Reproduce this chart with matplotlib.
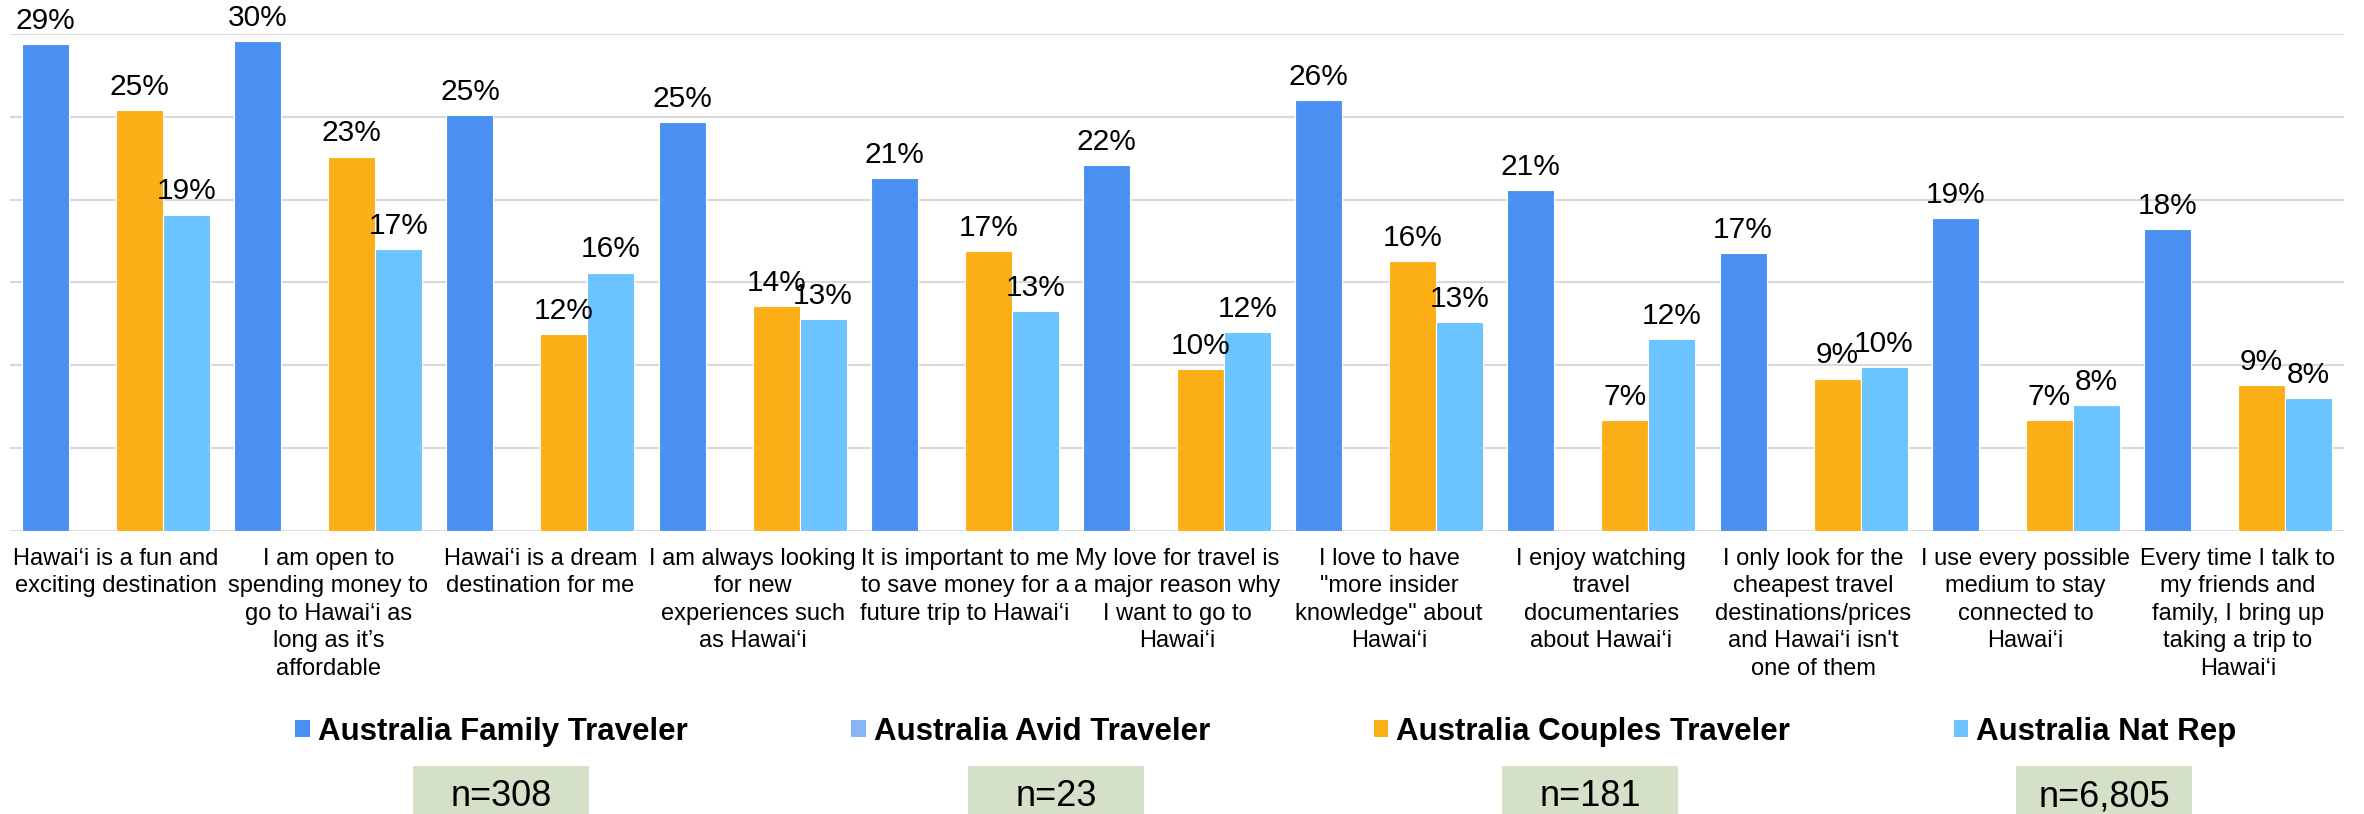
import numpy as np
import matplotlib
matplotlib.use("Agg")
import matplotlib.pyplot as plt
from matplotlib.patches import Patch, Rectangle

plt.rcParams['font.family'] = ['Liberation Sans', 'DejaVu Sans']

categories = [
    "Hawai\u2018i is a fun and\nexciting destination",
    "I am open to\nspending money to\ngo to Hawai\u2018i as\nlong as it\u2019s\naffordable",
    "Hawai\u2018i is a dream\ndestination for me",
    "I am always looking\nfor new\nexperiences such\nas Hawai\u2018i",
    "It is important to me\nto save money for a\nfuture trip to Hawai\u2018i",
    "My love for travel is\na major reason why\nI want to go to\nHawai\u2018i",
    "I love to have\n\"more insider\nknowledge\" about\nHawai\u2018i",
    "I enjoy watching\ntravel\ndocumentaries\nabout Hawai\u2018i",
    "I only look for the\ncheapest travel\ndestinations/prices\nand Hawai\u2018i isn't\none of them",
    "I use every possible\nmedium to stay\nconnected to\nHawai\u2018i",
    "Every time I talk to\nmy friends and\nfamily, I bring up\ntaking a trip to\nHawai\u2018i",
]

series_names = ["Australia Family Traveler", "Australia Avid Traveler",
                "Australia Couples Traveler", "Australia Nat Rep"]
family = [29.4, 29.6, 25.1, 24.7, 21.3, 22.1, 26.0, 20.6, 16.8, 18.9, 18.2]
avid = [np.nan] * 11
couples = [25.4, 22.6, 11.9, 13.6, 16.9, 9.8, 16.3, 6.7, 9.2, 6.7, 8.8]
natrep = [19.1, 17.0, 15.6, 12.8, 13.3, 12.0, 12.6, 11.6, 9.9, 7.6, 8.0]
sample_sizes = ["n=308", "n=23", "n=181", "n=6,805"]

colors = ["#4A90F2", "#8AB4F8", "#FCAE16", "#6BC3FF"]

W, H = 2364, 814
fig = plt.figure(figsize=(W / 100, H / 100), dpi=100)
ax = fig.add_axes([10 / W, 1 - 531 / H, 2334 / W, (531 - 34) / H])

x = np.arange(len(categories))
w = 0.2215
all_series = [family, avid, couples, natrep]
for i, (vals, c) in enumerate(zip(all_series, colors)):
    vals = np.array(vals, dtype=float)
    xs = x + (i - 1.5) * w
    ax.bar(xs, np.nan_to_num(vals), w, color=c, edgecolor="white",
           linewidth=0.8, zorder=3)
    for xi, v in zip(xs, vals):
        if np.isnan(v):
            continue
        ax.text(xi, v + 0.55, f"{round(v)}%", ha="center", va="bottom",
                fontsize=21.5, color="black", zorder=4)

ax.set_xlim(-0.5, len(categories) - 0.5)
ax.set_ylim(0, 30)
ax.set_yticks(np.arange(0, 31, 5))
ax.yaxis.grid(True, color="#D9D9D9", linewidth=1.5, zorder=0)
ax.set_axisbelow(True)
ax.tick_params(axis="y", left=False, labelleft=False)
ax.set_xticks(x)
ax.set_xticklabels(categories, fontsize=17, linespacing=1.33)
ax.tick_params(axis="x", length=0, pad=12)
for s in ax.spines.values():
    s.set_visible(False)

handles = [Patch(facecolor=c, edgecolor="none") for c in colors]
fig.legend(handles, series_names, loc="center", ncol=4,
           bbox_to_anchor=(1266 / W, 1 - 732 / H), frameon=False,
           prop={"weight": "bold", "size": 22.5},
           handlelength=0.45, handleheight=0.45, handletextpad=0.26,
           columnspacing=5.25, borderpad=0, borderaxespad=0)

box_left = [413, 968, 1502, 2016]
for left, label in zip(box_left, sample_sizes):
    fig.patches.append(Rectangle((left / W, 0), 176 / W, (814 - 766) / H,
                                 transform=fig.transFigure,
                                 facecolor="#D4E0C8", edgecolor="none"))
    fig.text((left + 88) / W, 1 - 797 / H, label, ha="center", va="center",
             fontsize=26, color="black")

fig.savefig("out.png", dpi=100)
